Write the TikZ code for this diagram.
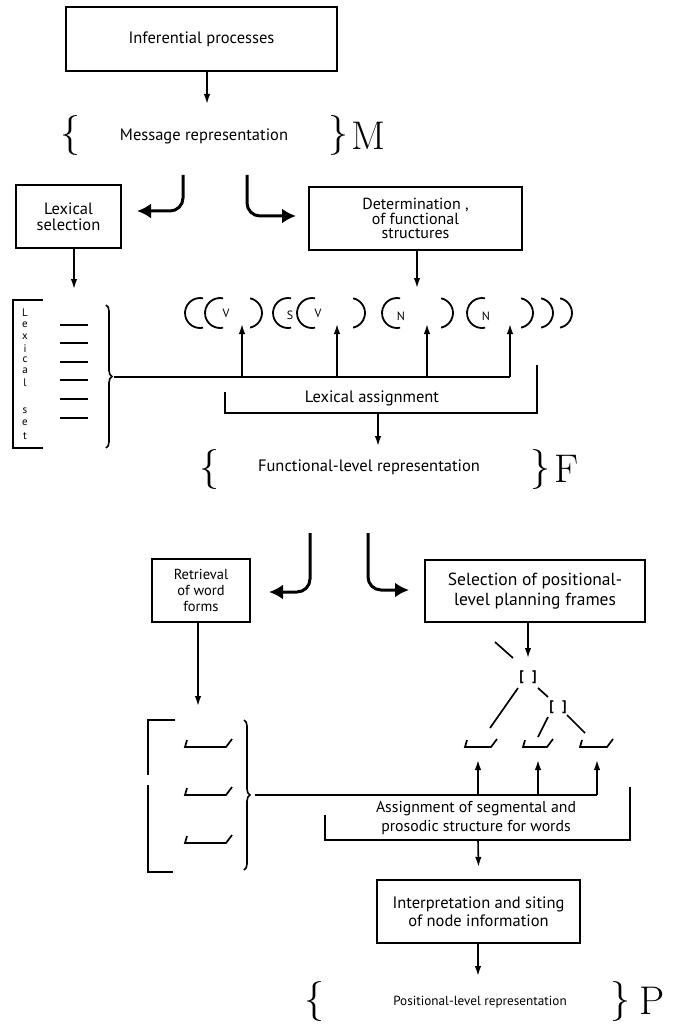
\documentclass[tikz,border=0pt]{standalone}
\usepackage{fontspec}
\setmainfont{PT Sans}
\newfontfamily\lmr{Latin Modern Roman}
\usetikzlibrary{arrows.meta,decorations.pathreplacing}

\tikzset{
  procbox/.style={draw, line width=2.3pt, align=center, inner sep=0pt,
                  font=\fontsize{16.5}{16}\selectfont},
  lbl/.style={align=center, inner sep=0pt, font=\fontsize{16.5}{18}\selectfont},
  thin/.style={line width=1.6pt},
  arr/.style={thin, -{Latex[length=10pt,width=6.5pt]}},
  bigarr/.style={line width=3pt, rounded corners=13pt,
                 -{Latex[length=14pt,width=15pt]}},
  curly/.style={inner sep=0pt, font=\lmr\fontsize{40}{40}\selectfont},
  levelmark/.style={inner sep=0pt, font=\lmr\fontsize{40}{40}\selectfont},
  tallbrace/.style={thin, decorate, decoration={brace, amplitude=6pt}},
  paren/.style={line width=1.8pt},
  slot/.style={line width=1.7pt},
  catlbl/.style={inner sep=0pt, font=\fontsize{12}{12}\selectfont},
  vletter/.style={inner sep=0pt, font=\fontsize{11}{11}\selectfont},
  framelbl/.style={inner sep=0pt, font=\fontsize{14}{14}\selectfont\bfseries}
}

\begin{document}
\begin{tikzpicture}[x=1pt,y=-1pt]
\useasboundingbox (0,0) rectangle (685,1024);

% ---------- message level ----------
\node[procbox, minimum width=271pt, minimum height=64pt] (inf) at (201.5,39) {Inferential processes};
\node[lbl] (msg) at (204,136) {Message representation};
\node[curly] (mL) at (70,136) {\{};
\node[curly] (mR) at (338,136) {\}};
\node[levelmark] (M) at (368,136) {M};
\coordinate (mtop) at (207,104);
\draw[arr] (inf.south -| mtop) -- (mtop);

% split into lexical selection and functional structures
\coordinate (s1) at (183,175);
\coordinate (s2) at (247,175);
\node[procbox, minimum width=105pt, minimum height=63pt] (lex) at (68.5,216.5) {Lexical\\selection};
\node[procbox, minimum width=213pt, minimum height=63pt, font=\fontsize{16}{14.5}\selectfont] (det) at (415.5,218.5) {Determination ,\\of functional\\structures};
\coordinate (t1) at (137,211);
\coordinate (t2) at (296,216);
\draw[bigarr] (s1) -- (s1 |- t1) -- (t1);
\draw[bigarr] (s2) -- (s2 |- t2) -- (t2);

% lexical set
\coordinate (lsTop) at (74,289);
\draw[arr] ([xshift=5.5pt]lex.south) -- (lsTop);
\draw[thin] (43,300) -- (13,300) -- (13,448) -- (43,448);
\foreach \ch/\yy [count=\k] in {L/313, e/325, x/337, i/349, c/360, a/371, l/383, s/411, e/423, t/436}
  \node[vletter] (ls\k) at (25,\yy) {\ch};
\foreach \yy in {325,343,362,380,399,418}
  \draw[slot] (60,\yy) -- (88,\yy);
\draw[tallbrace] (106,305) -- (106,448);

% functional frame
\foreach \cx in {200,220,288,312,397,482}
  \draw[paren] (\cx,313) ++(78:15) arc (78:282:15);
\foreach \cx in {247,350,438,518,538,557}
  \draw[paren] (\cx,313) ++(-78:15) arc (-78:78:15);
\node[catlbl] (cV1) at (226,313) {V};
\node[catlbl] (cS) at (290,315) {S};
\node[catlbl] (cV2) at (318,313) {V};
\node[catlbl] (cN1) at (401,316) {N};
\node[catlbl] (cN2) at (486,316) {N};
\coordinate (fTop) at (417,288);
\draw[arr] ([xshift=1.5pt]det.south) -- (fTop);

% lexical assignment
\coordinate (bus1) at (114,377);
\draw[thin] (bus1) -- (510,377);
\foreach \xx in {242,337,427,510}
  \draw[arr] (\xx,377) -- (\xx,324);
\draw[thin] (225,392) -- (225,413) -- (537,413) -- (537,365);
\node[lbl] (la) at (372,398) {Lexical assignment};

% functional level
\node[lbl] (flr) at (369,467) {Functional-level representation};
\node[curly] (fL) at (209,469) {\{};
\node[curly] (fR) at (540,469) {\}};
\node[levelmark] (F) at (567,469) {F};
\coordinate (laOut) at (378,413);
\coordinate (flrTop) at (378,446);
\draw[arr] (laOut) -- (flrTop);

% split into word-form retrieval and positional frames
\coordinate (s3) at (310,533);
\coordinate (s4) at (368,533);
\node[procbox, minimum width=98pt, minimum height=63pt, font=\fontsize{14.5}{16}\selectfont] (ret) at (201,590.5) {Retrieval\\of word\\forms};
\node[procbox, minimum width=220pt, minimum height=62pt, font=\fontsize{17.5}{20}\selectfont] (sel) at (535,591) {Selection of positional-\\level planning frames};
\coordinate (t3) at (269,592);
\coordinate (t4) at (409,590);
\draw[bigarr] (s3) -- (s3 |- t3) -- (t3);
\draw[bigarr] (s4) -- (s4 |- t4) -- (t4);

% retrieved word forms
\coordinate (wfTop) at (198,706);
\draw[arr] ([xshift=-3pt]ret.south) -- (wfTop);
\draw[thin] (175,720) -- (148,720) -- (148,775);
\draw[thin] (148,785) -- (148,872) -- (173,872);
\foreach \yy in {747,795,843}
  \draw[slot] (187,\yy-7) -- (185,\yy) -- (226,\yy) -- (232,\yy-8);
\draw[tallbrace] (244,720) -- (244,870);

% positional planning frame tree
\coordinate (tTop) at (528,658);
\draw[arr] ([xshift=-7pt]sel.south) -- (tTop);
\draw[slot] (495,642) -- (513,658);
\node[framelbl] (n1) at (528,677) {[\hspace{8pt}]};
\node[framelbl] (n2) at (558,707) {[\hspace{8pt}]};
\draw[slot] (518,688) -- (490,728);
\draw[slot] (538,688) -- (548,697);
\draw[slot] (548,717) -- (538,737);
\draw[slot] (567,715) -- (585,733);
\foreach \xa/\xb in {465/497, 523/553, 580/613}
  \draw[slot] (\xa+2,740) -- (\xa,747) -- (\xb-6,747) -- (\xb,739);

% segmental and prosodic assignment
\coordinate (bus2) at (255,795);
\draw[thin] (bus2) -- (597,795);
\foreach \xx in {478,538,597}
  \draw[arr] (\xx,795) -- (\xx,760);
\draw[thin] (325,815) -- (325,840) -- (630,840) -- (630,787);
\node[lbl, font=\fontsize{15.8}{19.5}\selectfont] (asg) at (476,818) {Assignment of segmental and\\prosodic structure for words};

% node interpretation
\node[procbox, minimum width=203pt, minimum height=63pt, font=\fontsize{16.5}{18.5}\selectfont] (int) at (478.5,911.5) {Interpretation and siting\\of node information};
\coordinate (asgOut) at (478,840);
\draw[arr] (asgOut) -- ([yshift=12pt]int.north);

% positional level
\node[lbl, font=\fontsize{13.2}{15}\selectfont] (plr) at (480,1002) {Positional-level representation};
\node[curly] (pL) at (314,1001) {\{};
\node[curly] (pR) at (620,1001) {\}};
\node[levelmark] (P) at (652,1001) {P};
\coordinate (plrTop) at (478,976);
\draw[arr] (int.south -| plrTop) -- (plrTop);
\end{tikzpicture}
\end{document}
